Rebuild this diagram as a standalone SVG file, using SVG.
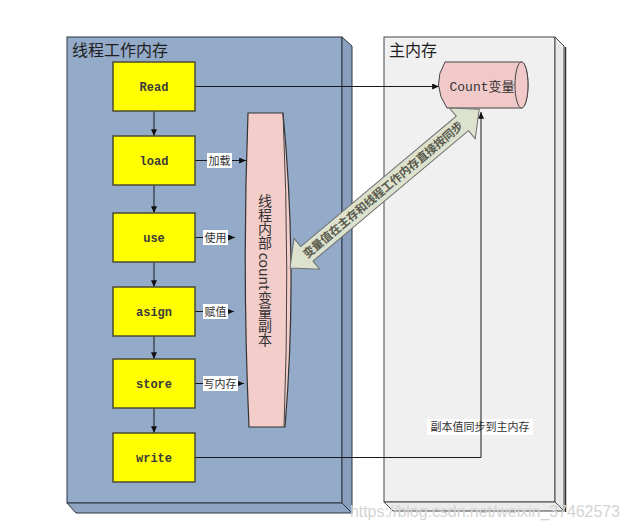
<svg xmlns="http://www.w3.org/2000/svg" width="630" height="531" viewBox="0 0 630 531">
<defs>
<marker id="ah" viewBox="0 0 8 7" refX="8" refY="3.5" markerWidth="7" markerHeight="6" markerUnits="userSpaceOnUse" orient="auto">
<path d="M0,0 L8,3.5 L0,7 Z" fill="#111"/>
</marker>
<style>
.pf{stroke:#2e3540;stroke-width:1}
.rf{stroke:#444;stroke-width:1}
.box{fill:#ffff00;stroke:#4b4b32;stroke-width:1.5}
.bt{font-family:"Liberation Mono",monospace;font-size:12px;font-weight:bold;fill:#3a3a3a;text-anchor:middle}
.lbl{font-family:"Noto Sans CJK SC",sans-serif;font-size:11px;fill:#333}
.lbg{fill:#fff}
.conn{stroke:#1a1a1a;stroke-width:1;fill:none}
.title{font-family:"Noto Sans CJK SC",sans-serif;font-size:16px;fill:#1e1e1e}
</style>
</defs>
<rect width="630" height="531" fill="#fff"/>

<g id="thread-memory">
<rect x="67" y="37" width="275" height="466" fill="#93aac8" class="pf"/>
<path d="M342,37 L352,46 L352,513 L342,503 Z" fill="#899fbd" class="pf"/>
<path d="M67,503 L342,503 L352,513 L76,513 Z" fill="#8ea4c2" class="pf"/>
<text x="72" y="56" class="title">线程工作内存</text>
</g>

<g id="main-memory">
<rect x="384" y="37" width="171" height="465" fill="#f0f0f0" class="rf"/>
<path d="M555,37 L564,46 L564,511 L555,502 Z" fill="#e9e9e9" class="rf"/>
<path d="M384,502 L555,502 L564,511 L393,511 Z" fill="#ebebeb" class="rf"/>
<line x1="565.5" y1="47" x2="565.5" y2="512" stroke="#333" stroke-width="1.5"/>
<text x="389" y="56" class="title">主内存</text>
</g>

<g id="connectors">
<line x1="195" y1="86.5" x2="439" y2="86.5" class="conn" marker-end="url(#ah)"/>
<path d="M195,457.5 L481,457.5 L481,112" class="conn" marker-end="url(#ah)"/>
<line x1="154" y1="111" x2="154" y2="136" class="conn" marker-end="url(#ah)"/>
<line x1="154" y1="185" x2="154" y2="213" class="conn" marker-end="url(#ah)"/>
<line x1="154" y1="262" x2="154" y2="287" class="conn" marker-end="url(#ah)"/>
<line x1="154" y1="336" x2="154" y2="359" class="conn" marker-end="url(#ah)"/>
<line x1="154" y1="408" x2="154" y2="433" class="conn" marker-end="url(#ah)"/>
<line x1="195" y1="160.5" x2="208" y2="160.5" class="conn"/>
<line x1="231" y1="160.5" x2="246" y2="160.5" class="conn" marker-end="url(#ah)"/>
<line x1="195" y1="237.5" x2="203" y2="237.5" class="conn"/>
<line x1="227" y1="237.5" x2="235" y2="237.5" class="conn" marker-end="url(#ah)"/>
<line x1="195" y1="311.5" x2="204" y2="311.5" class="conn"/>
<line x1="227" y1="311.5" x2="234" y2="311.5" class="conn" marker-end="url(#ah)"/>
<line x1="195" y1="383.5" x2="203" y2="383.5" class="conn"/>
<line x1="237" y1="383.5" x2="244" y2="383.5" class="conn" marker-end="url(#ah)"/>
<rect x="207" y="153" width="25" height="15" class="lbg"/>
<text x="219.5" y="164.5" class="lbl" text-anchor="middle">加载</text>
<rect x="203" y="230" width="25" height="15" class="lbg"/>
<text x="215.5" y="241.5" class="lbl" text-anchor="middle">使用</text>
<rect x="203" y="304" width="25" height="15" class="lbg"/>
<text x="215.5" y="315.5" class="lbl" text-anchor="middle">赋值</text>
<rect x="203" y="376" width="35" height="15" class="lbg"/>
<text x="220" y="387.5" class="lbl" text-anchor="middle">写内存</text>
<rect x="427" y="419" width="106" height="16" fill="#fff" fill-opacity="0.85"/>
<text x="480" y="431" class="lbl" text-anchor="middle" font-size="11.5">副本值同步到主内存</text>
<line x1="481" y1="419" x2="481" y2="435" stroke="#1a1a1a" stroke-width="1"/>
</g>

<g id="read"><rect x="113" y="62" width="82" height="49" class="box"/><text x="154" y="91" class="bt">Read</text></g>
<g id="load"><rect x="113" y="136" width="82" height="49" class="box"/><text x="154" y="165" class="bt">load</text></g>
<g id="use"><rect x="113" y="213" width="82" height="49" class="box"/><text x="154" y="242" class="bt">use</text></g>
<g id="asign"><rect x="113" y="287" width="82" height="49" class="box"/><text x="154" y="316" class="bt">asign</text></g>
<g id="store"><rect x="113" y="359" width="82" height="49" class="box"/><text x="154" y="388" class="bt">store</text></g>
<g id="write"><rect x="113" y="433" width="82" height="49" class="box"/><text x="154" y="462" class="bt">write</text></g>

<g id="copy">
<path d="M248,113 L283,113 Q298,270 285,427 L249,427 Q242,270 248,113 Z" fill="#f2cdca" stroke="#333" stroke-width="1.2"/>
<path d="M283,113 Q290,270 284,427" fill="none" stroke="#444" stroke-width="1"/>
<text x="265" y="270" text-anchor="middle" font-family="Noto Sans CJK SC, sans-serif" font-size="14" fill="#333" style="writing-mode:vertical-rl">线程内部 count变量副本</text>
</g>

<g id="count-var">
<path d="M445,62 L521.5,62 A6.5,23 0 0 1 521.5,108 L447,108 Q431,85 445,62 Z" fill="#f2c9c9" stroke="#444" stroke-width="1"/>
<ellipse cx="521.5" cy="85" rx="6.5" ry="23" fill="#f2c9c9" stroke="#444" stroke-width="1"/>
<text x="482" y="91" text-anchor="middle" font-family="Liberation Mono, Noto Sans CJK SC, monospace" font-size="13" fill="#333">Count变量</text>
</g>

<g id="sync-arrow" transform="translate(290,268) rotate(-40)">
<path d="M0,0 L22,-20 L22,-9.5 L225,-9.5 L225,-20 L247,0 L225,20 L225,9.5 L22,9.5 L22,20 Z" fill="#dce2cd" stroke="#6e6e6e" stroke-width="1"/>
<text x="121.5" y="4" text-anchor="middle" font-family="Noto Sans CJK SC, sans-serif" font-size="11.5" font-weight="bold" fill="#5a5a4e" textLength="205">变量值在主存和线程工作内存直接按同步</text>
</g>

<text x="350" y="517" font-family="Liberation Sans, sans-serif" font-size="16" fill="#d4d4d4" textLength="270">https://blog.csdn.net/weixin_37462573</text>
</svg>
